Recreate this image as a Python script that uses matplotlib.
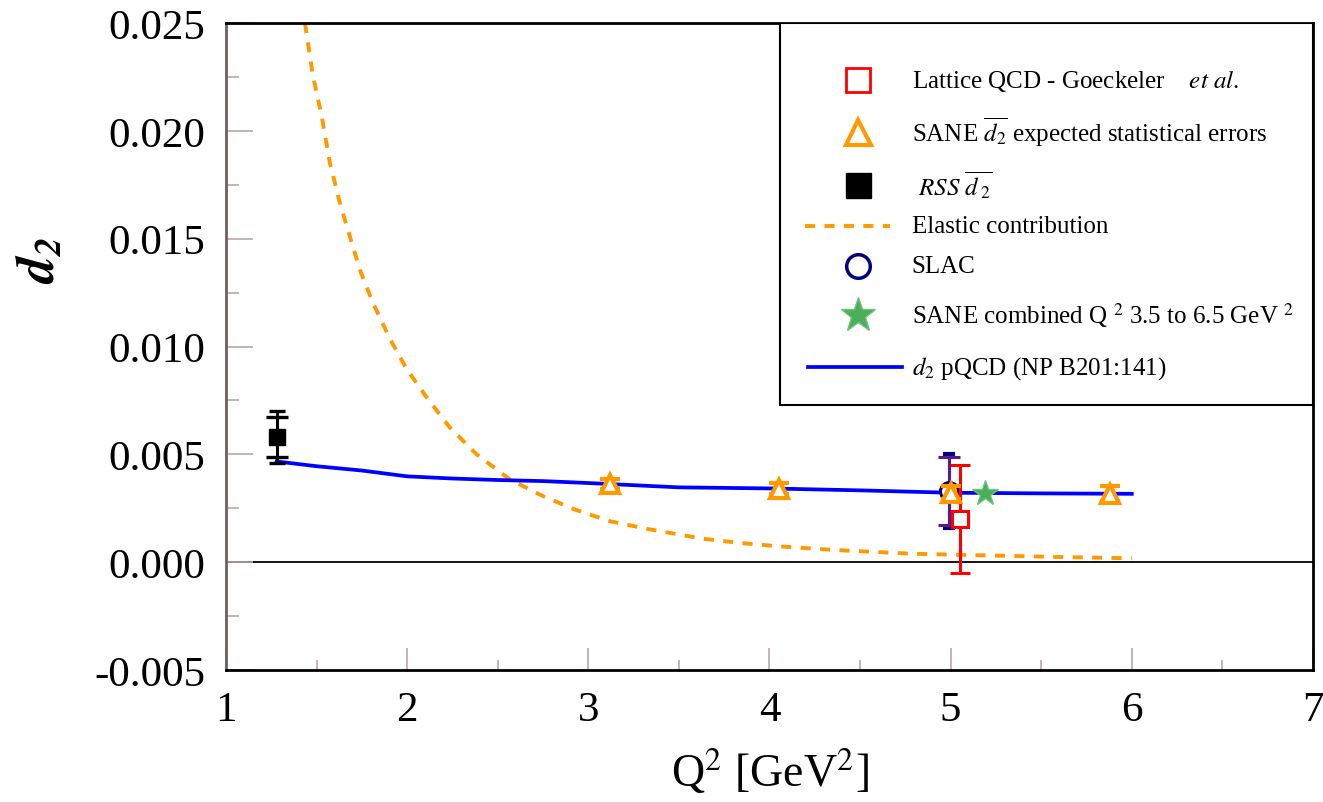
import matplotlib.pyplot as plt
from matplotlib.lines import Line2D
from matplotlib.patches import Rectangle
from matplotlib.ticker import MultipleLocator, FormatStrFormatter

plt.rcParams['font.family'] = ['Liberation Serif', 'DejaVu Serif']
plt.rcParams['mathtext.fontset'] = 'stix'
plt.rcParams['axes.unicode_minus'] = False

# elastic contribution (dashed curve)
q2_el = [1.436, 1.48, 1.528, 1.574, 1.629, 1.684, 1.74, 1.813, 1.905, 1.997,
         2.108, 2.236, 2.384, 2.568, 2.751, 2.926, 3.12, 3.32, 3.63, 3.84,
         4.06, 4.35, 4.79, 5.22, 5.6, 6.0]
d2_el = [0.0250, 0.02255, 0.0207, 0.0185, 0.01665, 0.0151, 0.01354, 0.01199,
         0.01036, 0.00896, 0.00764, 0.00624, 0.0050, 0.00383, 0.00306, 0.00244,
         0.0019, 0.00155, 0.00109, 0.00089, 0.00073, 0.00057, 0.00039, 0.00031,
         0.00024, 0.00018]

# pQCD evolution of d2
q2_pqcd = [1.28, 1.5, 1.75, 2.0, 2.25, 2.5, 2.75, 3.0, 3.5, 4.0, 4.5, 5.0, 5.5, 6.0]
d2_pqcd = [0.00467, 0.00445, 0.00425, 0.00398, 0.00388, 0.00381, 0.00376,
           0.00367, 0.00347, 0.00342, 0.00333, 0.00322, 0.00319, 0.00317]

# RSS point, stat and total errors
q2_rss = [1.28]
d2_rss = [0.0058]
err_rss_in = [0.00093]
err_rss_out = [0.0012]

# SANE expected statistical errors
q2_sane = [3.12, 4.05, 5.0, 5.88]
d2_sane = [0.00362, 0.0034, 0.00322, 0.00318]
err_sane = [0.00022, 0.00025, 0.0003, 0.00033]

# SLAC
q2_slac = [4.99]
d2_slac = [0.0033]
err_slac_in = [0.00157]
err_slac_out = [0.0017]

# Lattice QCD
q2_lat = [5.05]
d2_lat = [0.0020]
err_lat = [0.0025]

# SANE combined
q2_comb = [5.19]
d2_comb = [0.0032]

orange = '#ff9900'
green = '#4dae5a'
el_style = (0, (2.6, 2.4))

fig = plt.figure(figsize=(13.23, 8.03), dpi=100)
ax = fig.add_axes([0.1708, 0.1644, 0.8216, 0.8056])

ax.axhline(0, color='black', lw=1.3, zorder=1)
ax.plot(q2_el, d2_el, color=orange, lw=2.8, ls=el_style, zorder=2)
ax.plot(q2_pqcd, d2_pqcd, color='#0000ff', lw=2.7, zorder=3)

ax.errorbar(q2_rss, d2_rss, yerr=err_rss_out, fmt='none', ecolor='black',
            elinewidth=2, capsize=6, capthick=2.4, zorder=4)
ax.errorbar(q2_rss, d2_rss, yerr=err_rss_in, fmt='s', color='black', ms=12,
            elinewidth=2, capsize=8, capthick=2.4, zorder=4)

ax.errorbar(q2_slac, d2_slac, yerr=err_slac_out, fmt='none', ecolor='#000080',
            elinewidth=2.2, capsize=4, capthick=3, zorder=4)
ax.errorbar(q2_slac, d2_slac, yerr=err_slac_in, fmt='o', color='#5a1a8f',
            mec='#000080', mfc='white', mew=2.2, ms=13, elinewidth=2.2,
            capsize=8, capthick=2.2, zorder=4)

ax.errorbar(q2_lat, d2_lat, yerr=err_lat, fmt='s', color='#ff0000', mfc='white',
            mew=2.2, ms=11.5, elinewidth=2.2, capsize=7, capthick=2.2, zorder=5)

ax.errorbar(q2_sane, d2_sane, yerr=err_sane, fmt='^', color=orange, mfc='white',
            mew=3, ms=13, elinewidth=2.2, capsize=7, capthick=2.8, zorder=6)

ax.plot(q2_comb, d2_comb, '*', color=green, mec='#6cc47a', mew=1, ms=19, zorder=6)

ax.set_xlim(1, 7)
ax.set_ylim(-0.005, 0.025)
ax.xaxis.set_major_locator(MultipleLocator(1))
ax.xaxis.set_minor_locator(MultipleLocator(0.5))
ax.yaxis.set_major_locator(MultipleLocator(0.005))
ax.yaxis.set_minor_locator(MultipleLocator(0.0025))
ax.yaxis.set_major_formatter(FormatStrFormatter('%.3f'))
tick_col = '#b8a8a8'
ax.tick_params(axis='both', which='both', direction='in', color=tick_col,
               width=1.2, labelsize=31, pad=15, top=False, right=False)
ax.tick_params(axis='y', which='major', length=19.5)
ax.tick_params(axis='y', which='minor', length=9.5)
ax.tick_params(axis='x', which='major', length=16)
ax.tick_params(axis='x', which='minor', length=7.5)

for side in ['top', 'right', 'bottom']:
    ax.spines[side].set_color('black')
    ax.spines[side].set_linewidth(2)
ax.spines['left'].set_color('#6e6060')
ax.spines['left'].set_linewidth(2)

ax.set_xlabel(r'Q$^2$ [GeV$^2$]', fontsize=33, labelpad=12)
ax.set_ylabel(r'$\mathbfit{d_2}$', fontsize=38)
ax.yaxis.set_label_coords(-0.148, 0.635)

# legend box drawn by hand so the rows sit where they should
ax.add_patch(Rectangle((0.51, 0.41), 0.49, 0.59, transform=ax.transAxes,
                       facecolor='white', edgecolor='black', lw=1.5, zorder=7))
mk_x = 0.581
txt_x = 0.631
rows = [0.912, 0.832, 0.750, 0.686, 0.624, 0.549, 0.468]
labels = [r'Lattice QCD - Goeckeler    $\mathit{et\ al.}$',
          r'SANE $\overline{d_2}$ expected statistical errors',
          r' $\mathit{RSS}\ \overline{d\,_2}$',
          'Elastic contribution',
          'SLAC',
          r'SANE combined Q $^2$ 3.5 to 6.5 GeV $^2$',
          r'$\mathit{d_2}$ pQCD (NP B201:141)']
marker_kw = [dict(marker='s', color='#ff0000', mfc='white', mew=2, ms=17),
             dict(marker='^', color=orange, mfc='white', mew=3, ms=18),
             dict(marker='s', color='black', ms=18),
             None,
             dict(marker='o', color='#000080', mfc='white', mew=2.5, ms=17),
             dict(marker='*', color=green, mec='#6cc47a', mew=1, ms=26),
             None]
for y, lab, kw in zip(rows, labels, marker_kw):
    if kw is not None:
        ax.add_line(Line2D([mk_x], [y], transform=ax.transAxes, ls='none',
                           zorder=8, **kw))
    ax.text(txt_x, y, lab, transform=ax.transAxes, fontsize=18, va='center',
            ha='left', zorder=8)
ax.add_line(Line2D([0.533, 0.611], [rows[3], rows[3]], transform=ax.transAxes,
                   color=orange, lw=2.8, ls=el_style, zorder=8))
ax.add_line(Line2D([0.535, 0.622], [rows[6], rows[6]], transform=ax.transAxes,
                   color='#0000ff', lw=2.7, zorder=8))

fig.savefig('out.png', dpi=100)
